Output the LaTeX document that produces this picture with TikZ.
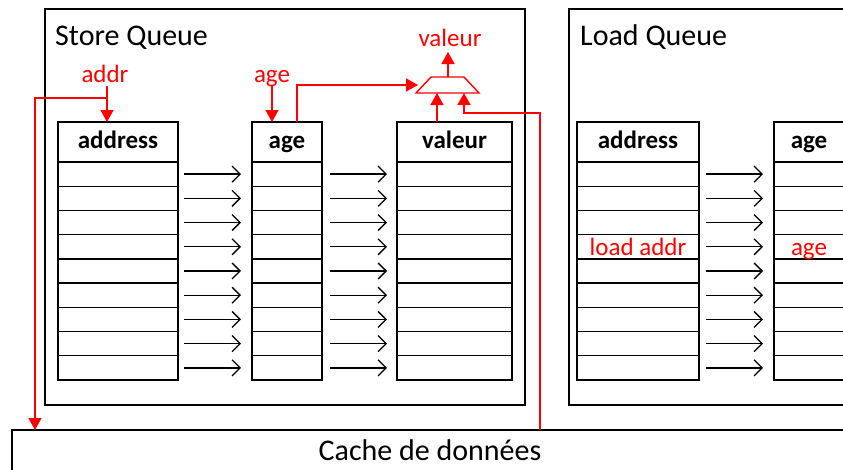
\documentclass[tikz,border=0pt]{standalone}
\usepackage{fontspec}
\setmainfont{Carlito}
\usetikzlibrary{arrows.meta}
\definecolor{rd}{RGB}{255,0,0}
\newcommand{\mktable}[4]{%
  \node[hdr, minimum width=#3] (#1h) at (#2,142) {#4};
  \foreach \i in {1,...,9} {
    \node[cell, minimum width=#3] (#1\i) at (#2,{162+24.22*(\i-0.5)}) {};
  }
}
\begin{document}
\begin{tikzpicture}[x=1pt,y=-1pt,
  box/.style={draw=black, line width=1.4pt, inner sep=0, outer sep=0},
  cell/.style={draw=black, line width=1.4pt, inner sep=0, outer sep=0, minimum height=24.22pt},
  hdr/.style={draw=black, line width=1.4pt, inner sep=0, outer sep=0, minimum height=40pt, text height=16pt, text depth=4pt, font=\fontsize{25}{30}\selectfont\bfseries},
  big/.style={font=\fontsize{30}{36}\selectfont, inner sep=0},
  lbl/.style={text=rd, font=\fontsize{25}{30}\selectfont, inner sep=0},
  celltext/.style={lbl, text height=18pt, text depth=0pt},
  rline/.style={draw=rd, line width=1.4pt},
  rarrow/.style={rline, -{Triangle[length=12pt,width=13pt]}},
  barrow/.style={draw=black, line width=1.3pt, -{Straight Barb[length=8pt,width=16pt]}}
]
\clip (0,0) rectangle (843,469);
\fill[white] (0,0) rectangle (843,469);
% outer boxes
\node[box, minimum width=480pt, minimum height=396pt] (sq) at (285,207) {};
\node[box, minimum width=331pt, minimum height=396pt] (lq) at (734.5,207) {};
\node[box, minimum width=888pt, minimum height=90pt] (cb) at (456,475) {};
\node[big, anchor=base west] (sqt) at (55,45) {Store Queue};
\node[big, anchor=base west] (lqt) at (580,45) {Load Queue};
\node[big, anchor=base] (cache) at (430,460) {Cache de données};
% tables
\mktable{sa}{118}{120pt}{address}
\mktable{sg}{287}{70pt}{age}
\mktable{sv}{454.5}{115pt}{valeur}
\mktable{la}{638}{122pt}{address}
\mktable{lg}{809}{70pt}{age}
\node[celltext] (latext) at (la4) {load addr};
\node[celltext] (lgtext) at (lg4) {age};
% black arrows
\foreach \i in {1,...,9} {
  \draw[barrow, shorten <=6pt, shorten >=11pt] (sa\i.east) -- (sg\i.west);
  \draw[barrow, shorten <=8pt, shorten >=10pt] (sg\i.east) -- (sv\i.west);
  \draw[barrow, shorten <=7pt, shorten >=11pt] (la\i.east) -- (lg\i.west);
}
% mux
\coordinate (m1) at (416,93);
\coordinate (m2) at (431,77);
\coordinate (m3) at (464,77);
\coordinate (m4) at (479,93);
\draw[rline] (m1) -- (m2) -- (m3) -- (m4) -- cycle;
\coordinate (mT) at (448,77);
\coordinate (mL) at (418,85);
\coordinate (mB1) at (437,93);
\coordinate (mB2) at (464,93);
\node[lbl, anchor=base] (vallbl) at (450,46) {valeur};
\coordinate (vout) at (448,52);
\draw[rarrow] (mT) -- (vout);
% red labels and routing
\node[lbl, anchor=base] (addrlbl) at (105,82) {addr};
\coordinate (a0) at (107,86);
\draw[rarrow] (a0) -- (a0 |- sah.north);
\coordinate (j1) at (107,98);
\coordinate (cin) at (35,430);
\draw[rarrow] (j1) -| (cin);
\node[lbl, anchor=base] (agelbl) at (272,82) {age};
\coordinate (g1) at (272,86);
\draw[rarrow] (g1) -- (g1 |- sgh.north);
\coordinate (g0) at (297,122);
\draw[rarrow] (g0) |- (mL);
\coordinate (v0) at (437,122);
\draw[rarrow] (v0) -- (mB1);
\coordinate (cout) at (540,430);
\coordinate (k1) at (540,113);
\draw[rarrow] (cout) -- (k1) -| (mB2);
\end{tikzpicture}
\end{document}
